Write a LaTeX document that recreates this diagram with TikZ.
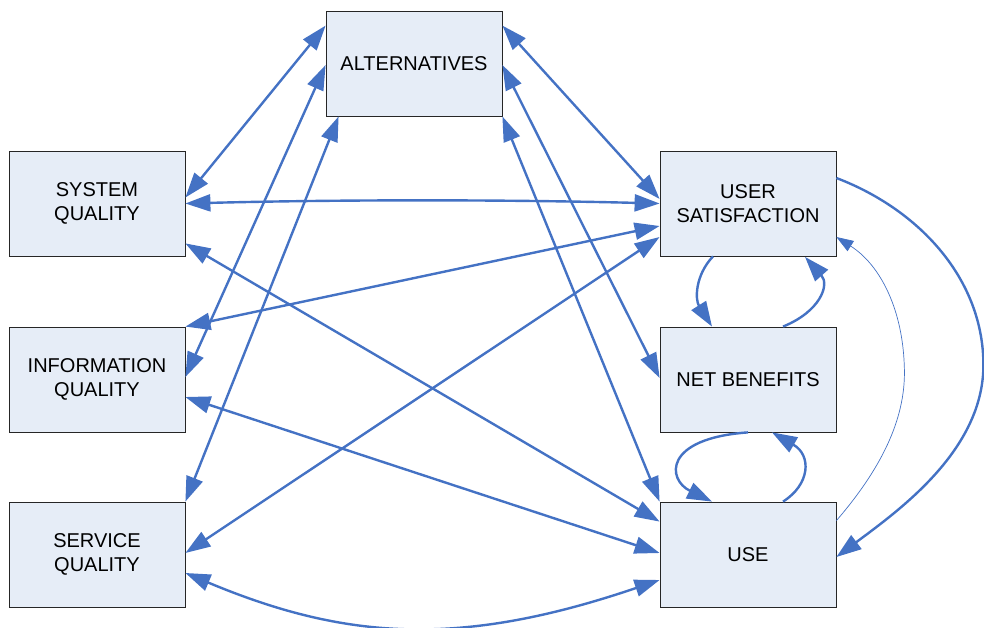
\documentclass[tikz,border=0pt]{standalone}
\usepackage{fontspec}
\setmainfont{Liberation Sans}
\usetikzlibrary{arrows.meta,calc}
\definecolor{lnblue}{RGB}{68,114,196}
\definecolor{boxfill}{RGB}{230,237,247}
\begin{document}
\begin{tikzpicture}[x=1pt,y=-1pt,
  box/.style={draw=black!85, line width=0.8pt, fill=boxfill, minimum width=176pt, minimum height=105pt, inner sep=0pt, align=center, font=\fontsize{20}{23.5}\selectfont},
  dbl/.style={draw=lnblue, line width=2.4pt, {Triangle[length=25pt,width=17pt]}-{Triangle[length=25pt,width=17pt]}},
  sgl/.style={draw=lnblue, line width=2.4pt, -{Triangle[length=25pt,width=17pt]}},
  thinarr/.style={draw=lnblue, line width=0.7pt, -{Triangle[length=17pt,width=12pt]}}
]
\useasboundingbox (0,0) rectangle (984,628);
\node[box] (alt) at (414,63.5) {ALTERNATIVES};
\node[box] (sq)  at (97,203.5) {SYSTEM\\QUALITY};
\node[box] (iq)  at (97,379.5) {INFORMATION\\QUALITY};
\node[box] (svq) at (97,554.5) {SERVICE\\QUALITY};
\node[box] (us)  at (748,203.5) {USER\\SATISFACTION};
\node[box] (nb)  at (748,379.5) {NET BENEFITS};
\node[box] (use) at (748,554.5) {USE};

% alternatives links
\draw[dbl] ($(alt.north west)+(0,15)$) -- ($(sq.east)+(0,-6)$);
\draw[dbl] ($(alt.west)+(0,1.5)$) -- ($(iq.east)+(0,-2.5)$);
\draw[dbl] ($(alt.south west)+(13,0)$) -- (svq.north east);
\draw[dbl] ($(alt.north east)+(0,15)$) -- ($(us.west)+(0,-4.5)$);
\draw[dbl] ($(alt.east)+(0,1.5)$) -- ($(nb.west)+(0,-1.5)$);
\draw[dbl] (alt.south east) -- (use.north west);

% left-right links
\draw[dbl] (sq.east) .. controls ($(sq.east)!0.33!(us.west)+(0,-4)$) and ($(sq.east)!0.67!(us.west)+(0,-4)$) .. (us.west);
\draw[dbl] ($(sq.south east)+(0,-13)$) -- ($(use.north west)+(0,20)$);
\draw[dbl] (iq.north east) -- ($(us.west)+(0,22.5)$);
\draw[dbl] ($(iq.east)+(0,17.5)$) -- ($(use.west)+(0,-1.5)$);
\draw[dbl] ($(svq.east)+(0,-1.5)$) -- ($(us.west)+(0,33.5)$);
\draw[dbl] ($(svq.east)+(0,18.5)$) .. controls +(160,67) and +(-200,68) .. ($(use.west)+(0,25.5)$);

% right column loops
\draw[sgl] ($(us.south)+(-35,0)$) .. controls +(-18,19) and +(-17,-27) .. ($(nb.north)+(-36,0)$);
\draw[sgl] ($(nb.north)+(35,0)$) .. controls +(37,-15) and +(25,28) .. ($(us.south)+(57,0.5)$);
\draw[sgl] (nb.south) .. controls +(-85,6) and +(-45,-22) .. ($(use.north)+(-36,0)$);
\draw[sgl] ($(use.north)+(35,0)$) .. controls +(27,-17) and +(40,23) .. ($(nb.south)+(24,0)$);

% outer curves
\draw[sgl] ($(us.east)+(0,-25.5)$) .. controls +(84,32) and +(0,-85) .. ($(us.east)!0.5!(use.east)+(147,-14)$) .. controls +(0,85) and +(63,-47) .. ($(use.east)+(0,2.5)$);
\draw[thinarr] ($(use.north east)+(0,19)$) .. controls +(44,-51) and +(1,50) .. ($(us.east)!0.5!(use.east)+(68,-9)$) .. controls +(-1,-60) and +(44,28) .. ($(us.east)+(0,33.5)$);
\end{tikzpicture}
\end{document}
